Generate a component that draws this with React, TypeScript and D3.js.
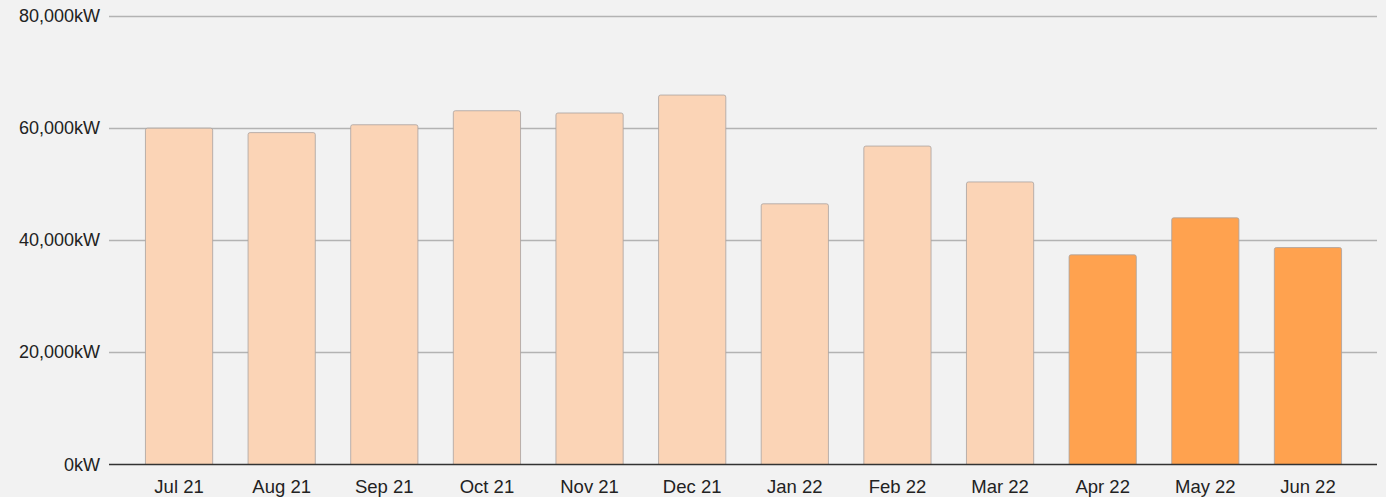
import { useEffect, useRef } from 'react';
import * as d3 from 'd3';

const months = ['Jul 21', 'Aug 21', 'Sep 21', 'Oct 21', 'Nov 21', 'Dec 21', 'Jan 22', 'Feb 22', 'Mar 22', 'Apr 22', 'May 22', 'Jun 22'];
const usage = [60000, 59200, 60600, 63100, 62700, 65900, 46500, 56800, 50400, 37400, 44000, 38700];
const highlighted = ['Apr 22', 'May 22', 'Jun 22'];
const yTicks = [0, 20000, 40000, 60000, 80000];

const WIDTH = 1386;
const HEIGHT = 497;

const App = () => {
  const svgRef = useRef<SVGSVGElement | null>(null);

  useEffect(() => {
    const svg = d3.select(svgRef.current);
    svg.selectAll('*').remove();

    const plotLeft = 109;
    const plotRight = 1377;
    const yScale = d3.scaleLinear().domain([0, 80000]).range([464.5, 16]);
    const xScale = d3.scaleBand<string>()
      .domain(months)
      .range([128, 1359])
      .paddingInner(0.345)
      .paddingOuter(0.17);

    svg.append('rect')
      .attr('width', WIDTH)
      .attr('height', HEIGHT)
      .attr('fill', '#f2f2f2');

    // gridlines
    svg.append('g')
      .selectAll('line')
      .data(yTicks.filter(d => d > 0))
      .enter()
      .append('line')
      .attr('x1', plotLeft)
      .attr('x2', plotRight)
      .attr('y1', d => Math.round(yScale(d)) + 0.5)
      .attr('y2', d => Math.round(yScale(d)) + 0.5)
      .attr('stroke', '#b3b3b3')
      .attr('stroke-width', 1.3);

    // y labels
    svg.append('g')
      .selectAll('text')
      .data(yTicks)
      .enter()
      .append('text')
      .attr('x', 100)
      .attr('y', d => yScale(d) + 6)
      .attr('text-anchor', 'end')
      .attr('font-family', 'Liberation Sans, Arial, sans-serif')
      .attr('font-size', '18px')
      .attr('fill', '#222')
      .text(d => `${d3.format(',')(d)}kW`);

    // bars with rounded top corners
    const r = 2;
    svg.append('g')
      .selectAll('path')
      .data(months.map((m, i) => ({ month: m, value: usage[i] })))
      .enter()
      .append('path')
      .attr('d', d => {
        const x0 = xScale(d.month)!;
        const x1 = x0 + xScale.bandwidth();
        const y0 = yScale(0);
        const y1 = yScale(d.value);
        return `M${x0},${y0}V${y1 + r}Q${x0},${y1} ${x0 + r},${y1}H${x1 - r}Q${x1},${y1} ${x1},${y1 + r}V${y0}Z`;
      })
      .attr('fill', d => highlighted.includes(d.month) ? '#ffa24f' : '#fbd4b6')
      .attr('stroke', '#a9a2a0')
      .attr('stroke-width', 0.8);

    // baseline
    svg.append('line')
      .attr('x1', plotLeft)
      .attr('x2', plotRight)
      .attr('y1', yScale(0))
      .attr('y2', yScale(0))
      .attr('stroke', '#333')
      .attr('stroke-width', 1.5);

    // x labels
    svg.append('g')
      .selectAll('text')
      .data(months)
      .enter()
      .append('text')
      .attr('x', d => xScale(d)! + xScale.bandwidth() / 2)
      .attr('y', 493)
      .attr('text-anchor', 'middle')
      .attr('font-family', 'Liberation Sans, Arial, sans-serif')
      .attr('font-size', '18.5px')
      .attr('fill', '#222')
      .text(d => d);
  }, []);

  return (
    <div style={{ position: 'absolute', left: 0, top: 0 }}>
      <svg ref={svgRef} width={WIDTH} height={HEIGHT} style={{ display: 'block' }} />
    </div>
  );
};

export default App;
